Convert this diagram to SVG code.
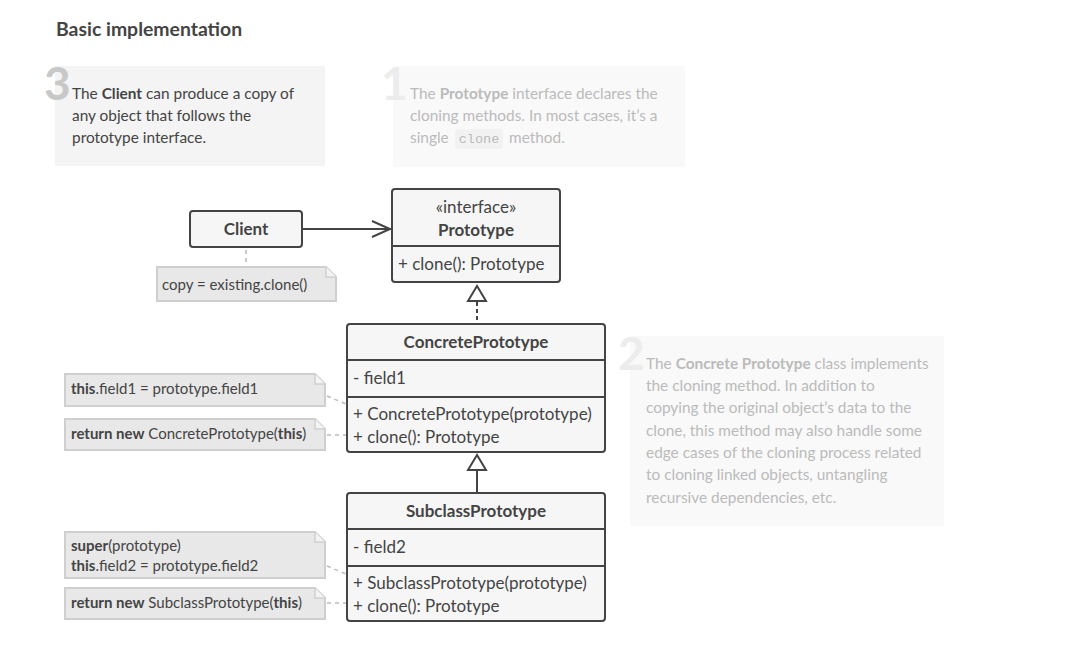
<svg xmlns="http://www.w3.org/2000/svg" width="1065" height="662" viewBox="0 0 1065 662">
<defs>
<style>
text{font-family:Lato,"Noto Sans",sans-serif;fill:#444}
.t{font-size:19.4px;font-weight:bold}
.cls{fill:#f6f6f6;stroke:#444;stroke-width:2}
.div{stroke:#444;stroke-width:2}
.c{font-size:17px}
.b{font-weight:bold}
.n{font-size:15px}
.note{fill:#e8e8e8;stroke:#cfcfcf;stroke-width:2}
.fold{fill:#f4f4f4;stroke:#cfcfcf;stroke-width:1.5}
.dot{stroke:#bbb;stroke-width:1.5;stroke-dasharray:4 4;fill:none}
.d{font-size:15.4px}
.dig{font-size:46px;font-weight:bold}
.faded{fill:#bbb}
</style>
</defs>
<rect width="1065" height="662" fill="#fff"/>
<text class="t" x="56" y="36">Basic implementation</text>

<g id="desc3">
<rect x="55" y="66" width="270" height="100" fill="#f4f4f4"/>
<text class="dig" x="44" y="100" style="fill:#c8c8c8">3</text>
<text class="d" x="72" y="99">The <tspan class="b">Client</tspan> can produce a copy of</text>
<text class="d" x="72" y="121">any object that follows the</text>
<text class="d" x="72" y="143">prototype interface.</text>
</g>

<g id="desc1">
<rect x="393" y="66" width="292" height="101" fill="#f9f9f9"/>
<text class="dig" x="381" y="100" style="fill:#ececec">1</text>
<text class="d faded" x="410" y="99">The <tspan class="b">Prototype</tspan> interface declares the</text>
<text class="d faded" x="410" y="121">cloning methods. In most cases, it’s a</text>
<rect x="455" y="129" width="48" height="20" rx="3" fill="#f2f2f2"/>
<text class="d faded" x="410" y="143">single</text>
<text class="faded" x="479" y="143" text-anchor="middle" font-family="'Liberation Mono',monospace" font-size="13.5" style="font-family:'Liberation Mono',monospace">clone</text>
<text class="d faded" x="509" y="143">method.</text>
</g>

<g id="desc2">
<rect x="630" y="336" width="314" height="190" fill="#f9f9f9"/>
<text class="dig" x="618" y="370" style="fill:#ececec">2</text>
<text class="d faded" x="646" y="369">The <tspan class="b">Concrete Prototype</tspan> class implements</text>
<text class="d faded" x="646" y="391">the cloning method. In addition to</text>
<text class="d faded" x="646" y="413">copying the original object’s data to the</text>
<text class="d faded" x="646" y="436">clone, this method may also handle some</text>
<text class="d faded" x="646" y="458">edge cases of the cloning process related</text>
<text class="d faded" x="646" y="480">to cloning linked objects, untangling</text>
<text class="d faded" x="646" y="503">recursive dependencies, etc.</text>
</g>

<g id="connectors">
<line x1="302" y1="229" x2="391" y2="229" stroke="#444" stroke-width="2"/>
<polyline points="372,221 390,229 372,237" fill="none" stroke="#444" stroke-width="2"/>
<line x1="477" y1="302" x2="477" y2="323" stroke="#444" stroke-width="2" stroke-dasharray="4 3"/>
<polygon points="477,286 468,301 486,301" fill="#fff" stroke="#444" stroke-width="2"/>
<line x1="477" y1="471" x2="477" y2="492" stroke="#444" stroke-width="2"/>
<polygon points="477,455 468,470 486,470" fill="#fff" stroke="#444" stroke-width="2"/>
<line class="dot" x1="246" y1="250" x2="246" y2="266"/>
<line class="dot" x1="327" y1="396" x2="346" y2="404"/>
<line class="dot" x1="327" y1="435" x2="346" y2="435"/>
<line class="dot" x1="327" y1="566" x2="346" y2="574"/>
<line class="dot" x1="327" y1="603" x2="346" y2="603"/>
</g>

<g id="client">
<rect class="cls" x="190" y="211" width="112" height="36" rx="3"/>
<text class="c b" x="246" y="235" text-anchor="middle">Client</text>
</g>

<g id="note-client">
<path class="note" d="M157,267 H326 L336,277 V301 H157 Z"/>
<path class="fold" d="M326,267 V277 H336"/>
<text class="n" x="162" y="290">copy = existing.clone()</text>
</g>

<g id="prototype">
<rect class="cls" x="392" y="189" width="168" height="93" rx="3"/>
<line class="div" x1="392" y1="246" x2="560" y2="246"/>
<text class="c" x="476" y="213" text-anchor="middle">«interface»</text>
<text class="c b" x="476" y="236" text-anchor="middle">Prototype</text>
<text class="c" x="398" y="270">+ clone(): Prototype</text>
</g>

<g id="concrete">
<rect class="cls" x="347" y="324" width="258" height="128" rx="3"/>
<line class="div" x1="347" y1="360" x2="605" y2="360"/>
<line class="div" x1="347" y1="397" x2="605" y2="397"/>
<text class="c b" x="476" y="348" text-anchor="middle">ConcretePrototype</text>
<text class="c" x="353" y="384">- field1</text>
<text class="c" x="353" y="420">+ ConcretePrototype(prototype)</text>
<text class="c" x="353" y="443">+ clone(): Prototype</text>
</g>

<g id="subclass">
<rect class="cls" x="347" y="493" width="258" height="128" rx="3"/>
<line class="div" x1="347" y1="529" x2="605" y2="529"/>
<line class="div" x1="347" y1="566" x2="605" y2="566"/>
<text class="c b" x="476" y="517" text-anchor="middle">SubclassPrototype</text>
<text class="c" x="353" y="553">- field2</text>
<text class="c" x="353" y="589">+ SubclassPrototype(prototype)</text>
<text class="c" x="353" y="612">+ clone(): Prototype</text>
</g>

<g id="note-a">
<path class="note" d="M65,374 H315 L325,384 V406 H65 Z"/>
<path class="fold" d="M315,374 V384 H325"/>
<text class="n" x="71" y="394"><tspan class="b">this</tspan>.field1 = prototype.field1</text>
</g>
<g id="note-b">
<path class="note" d="M65,419 H315 L325,429 V450 H65 Z"/>
<path class="fold" d="M315,419 V429 H325"/>
<text class="n" x="71" y="439"><tspan class="b">return new</tspan> ConcretePrototype(<tspan class="b">this</tspan>)</text>
</g>
<g id="note-c">
<path class="note" d="M65,532 H315 L325,542 V578 H65 Z"/>
<path class="fold" d="M315,532 V542 H325"/>
<text class="n" x="71" y="551"><tspan class="b">super</tspan>(prototype)</text>
<text class="n" x="71" y="571"><tspan class="b">this</tspan>.field2 = prototype.field2</text>
</g>
<g id="note-d">
<path class="note" d="M65,588 H315 L325,598 V619 H65 Z"/>
<path class="fold" d="M315,588 V598 H325"/>
<text class="n" x="71" y="608"><tspan class="b">return new</tspan> SubclassPrototype(<tspan class="b">this</tspan>)</text>
</g>
</svg>
